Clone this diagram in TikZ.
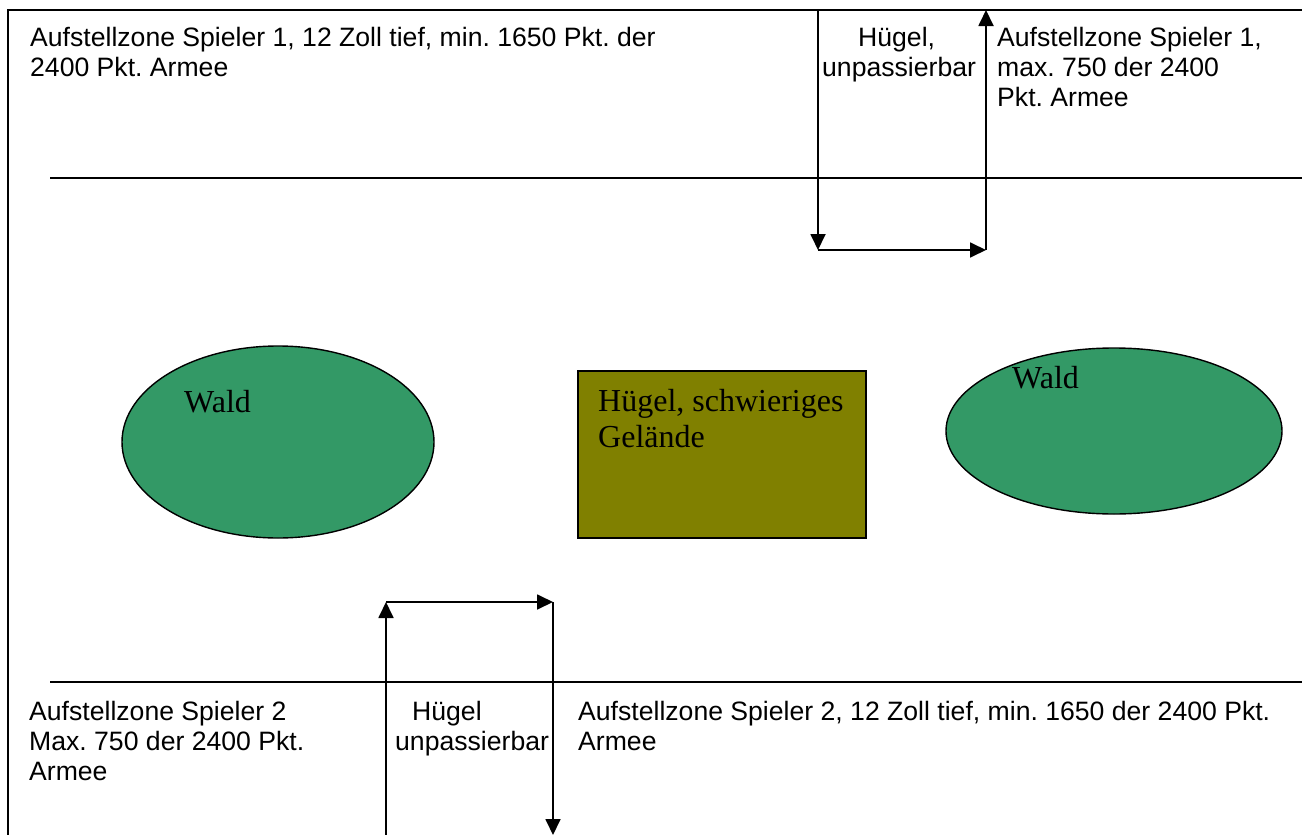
\documentclass[tikz,border=0pt]{standalone}
\usepackage{fontspec}
\setmainfont{Liberation Serif}
\newfontfamily\arialfont{Liberation Sans}
\usetikzlibrary{arrows.meta}
\definecolor{waldgreen}{HTML}{339966}
\definecolor{huegelolive}{HTML}{808000}
\frenchspacing
\begin{document}
\begin{tikzpicture}[x=1pt,y=-1pt,
  frame/.style={line width=1.8pt,black},
  arr/.style={line width=1.8pt,-{Triangle[length=16pt,width=15pt]}},
  sanstext/.style={anchor=base west,inner sep=0pt,font=\arialfont\fontsize{26.6}{30}\selectfont},
  seriftext/.style={anchor=base west,inner sep=0pt,font=\fontsize{32}{36.7}\selectfont},
  wald/.style={fill=waldgreen,draw=black,line width=1.4pt},
  huegel/.style={fill=huegelolive,draw=black,line width=1.6pt}]
\useasboundingbox (0,0) rectangle (1302,835);
% frame
\coordinate (tl) at (8,10);
\coordinate (tr) at (1302,10);
\coordinate (bl) at (8,835);
\draw[frame] (bl) -- (tl) -- (tr);
\coordinate (l1a) at (50,178);
\coordinate (l1b) at (1302,178);
\coordinate (l2a) at (50,682);
\coordinate (l2b) at (1302,682);
\draw[frame] (l1a) -- (l1b);
\draw[frame] (l2a) -- (l2b);
% terrain
\draw[wald] (278,442) ellipse [x radius=156, y radius=96];
\node[seriftext] (wald1) at (184,412) {Wald};
\draw[wald] (1114,431) ellipse [x radius=168, y radius=83];
\node[seriftext] (wald2) at (1012,388) {Wald};
\draw[huegel] (578,371) rectangle (866,538);
\node[seriftext] (huegelm) at (598,411) {\begin{tabular}[t]{@{}l@{}}Hügel, schwieriges\\Gelände\end{tabular}};
% top arrows
\coordinate (t1) at (818,10);
\coordinate (t2) at (818,250);
\coordinate (t3) at (986,250);
\coordinate (t4) at (986,10);
\draw[arr] (t1) -- (t2);
\draw[arr] (t2) -- (t3);
\draw[arr] (t3) -- (t4);
% bottom arrows
\coordinate (b1) at (386,835);
\coordinate (b2) at (386,602);
\coordinate (b3) at (553,602);
\coordinate (b4) at (553,835);
\draw[arr] (b1) -- (b2);
\draw[arr] (b2) -- (b3);
\draw[arr] (b3) -- (b4);
% texts
\node[sanstext] (z1) at (30,46) {\begin{tabular}[t]{@{}l@{}}Aufstellzone Spieler 1, 12 Zoll tief, min. 1650 Pkt. der\\2400 Pkt. Armee\end{tabular}};
\node[sanstext] (h1) at (822,46) {\begin{tabular}[t]{@{}l@{}}\hspace*{36pt}Hügel,\\unpassierbar\end{tabular}};
\node[sanstext] (z1b) at (997,46) {\begin{tabular}[t]{@{}l@{}}Aufstellzone Spieler 1,\\max. 750 der 2400\\Pkt. Armee\end{tabular}};
\node[sanstext] (z2b) at (29,720) {\begin{tabular}[t]{@{}l@{}}Aufstellzone Spieler 2\\Max. 750 der 2400 Pkt.\\Armee\end{tabular}};
\node[sanstext] (h2) at (395,720) {\begin{tabular}[t]{@{}l@{}}\hspace*{17pt}Hügel\\unpassierbar\end{tabular}};
\node[sanstext] (z2) at (578,720) {\begin{tabular}[t]{@{}l@{}}Aufstellzone Spieler 2, 12 Zoll tief, min. 1650 der 2400 Pkt.\\Armee\end{tabular}};
\end{tikzpicture}
\end{document}
